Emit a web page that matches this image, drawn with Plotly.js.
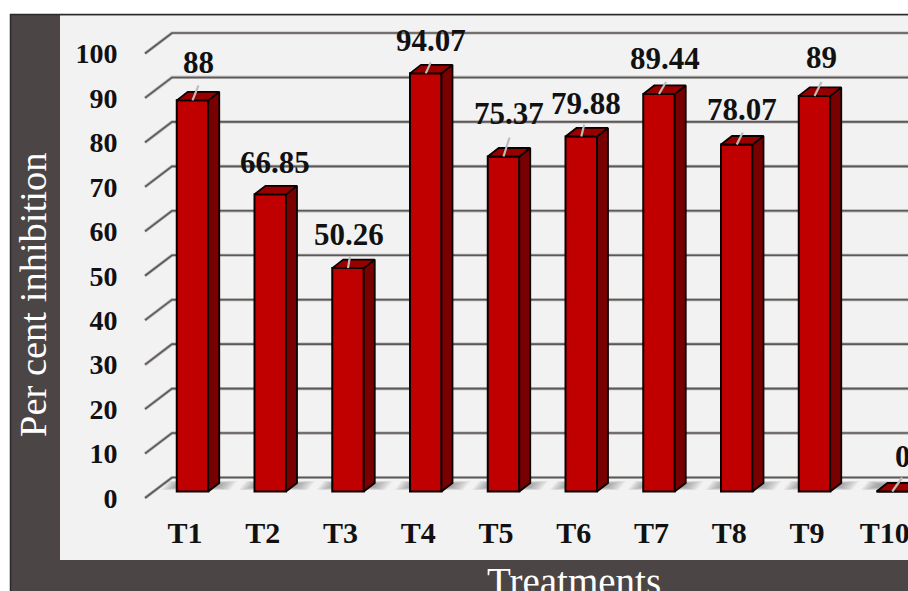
<!DOCTYPE html>
<html>
<head>
<meta charset="utf-8">
<script src="https://cdn.plot.ly/plotly-3.0.1.min.js"></script>
<style>
html,body{margin:0;padding:0;background:#fff;overflow:hidden}
#chart{width:908px;height:591px}
</style>
</head>
<body>
<div id="chart"></div>
<script>
// Per cent inhibition by treatment
const treatments = ['T1','T2','T3','T4','T5','T6','T7','T8','T9','T10'];
const inhibition = [88, 66.85, 50.26, 94.07, 75.37, 79.88, 89.44, 78.07, 89, 0];
const valueLabels = ['88','66.85','50.26','94.07','75.37','79.88','89.44','78.07','89','0'];
const yTicks = [0,10,20,30,40,50,60,70,80,90,100];

// Label placement, in pixels from the top-centre of each bar's front face
const labelOffsetX = [6, 5, 1, 5, 5, 5, 6, 5, 7, 11];
const labelOffsetY = [-38, -32, -34, -33, -42.5, -33, -35, -35, -38, -35];
const leaderX = [6, 0, 2, 5, 6, 3, 7, 6, 7, 10];
const leaderY = [-15, 0, -12, -11, -19, -12, -12, -12, -14, -14];

// Plot geometry
const W = 908, H = 591;
const M = {l:125, r:0, t:15, b:91};
const pitch = 77.75, unitPx = 4.445;   // pixels per category, pixels per y unit
const x0Px = 192.5, y0Px = 491.5;      // pixel position of T1 centre / value 0
const dxU = px => px / pitch;
const dyU = px => px / unitPx;
const xRange = [(M.l - x0Px) / pitch, (W - M.r - x0Px) / pitch];
const yRange = [-((H - M.b) - y0Px) / unitPx, (y0Px - M.t) / unitPx];

const idx = treatments.map((_, i) => i);
const barW = 31.5 / pitch;
const depthX = dxU(11), depthY = dyU(8.5);

// Depth faces of the extruded bars, and leader lines up to the value labels
const sideX = [], sideY = [], topX = [], topY = [], leadX = [], leadY = [];
idx.forEach(i => {
  const v = inhibition[i], L = i - barW/2, R = i + barW/2;
  if (v > 0) {
    sideX.push(R, R+depthX, R+depthX, R, R, null);
    sideY.push(0, depthY, v+depthY, v, 0, null);
  }
  topX.push(L, L+depthX, R+depthX, R, L, null);
  topY.push(v, v+depthY, v+depthY, v, v, null);
  if (leaderY[i] !== 0) {
    leadX.push(i, i + dxU(leaderX[i]), null);
    leadY.push(v, v - dyU(leaderY[i]), null);
  }
});

// Frame and panel, expressed in window pixels
const pX = px => (px - M.l) / (W - M.l - M.r);
const pY = py => ((H - M.b) - py) / (H - M.t - M.b);
const rect = (x0,y0,x1,y1,fill,line) => ({
  type:'rect', xref:'paper', yref:'paper', layer:'below',
  x0:pX(x0), x1:pX(x1), y0:pY(y1), y1:pY(y0),
  fillcolor:fill, line: line || {width:0}
});
const shapes = [
  rect(10.5,14.5,W+4,H+4,'#4b4545',{color:'#2a2a2a',width:1.5}),
  rect(60,15.5,W+4,560,'#f2f2f2')
];

// Back-wall gridlines that fold forward onto the floor at the left
const wallLeft = dxU(172 - x0Px), floorLeft = dxU(145 - x0Px), wallUp = dyU(14), floorDown = dyU(6.5);
yTicks.forEach(v => {
  const path = `M ${floorLeft} ${v - floorDown} L ${wallLeft} ${v + wallUp} L ${xRange[1]} ${v + wallUp}`;
  shapes.push({type:'path', xref:'x', yref:'y', layer:'below', path,
    line:{color:'rgba(110,104,104,0.45)', width:3.2}});
  shapes.push({type:'path', xref:'x', yref:'y', layer:'below', path,
    line:{color:'#5d5858', width:1.6}});
});

// Floor shadows: nested shapes build up a soft edge around each bar's foot
idx.forEach(i => {
  [[12,4.6],[10.5,4.3],[9,4],[7.5,3.7],[6,3.4],[4.5,3],[3,2.6],[1.5,2.2],[0,1.8]].forEach(([grow, h]) => {
    const L = i - barW/2 - dxU(grow), R = i + barW/2 + depthX + dxU(grow * 1.2);
    const yMid = dyU(6), skew = dxU(h * 0.8);
    shapes.push({
      type:'path', xref:'x', yref:'y', layer:'below',
      path:`M ${L - skew} ${yMid - dyU(h)} L ${R - skew} ${yMid - dyU(h)} L ${R + skew} ${yMid + dyU(h)} L ${L + skew} ${yMid + dyU(h)} Z`,
      fillcolor:'rgba(70,70,70,0.06)', line:{width:0}
    });
  });
});

const serif = '"Liberation Serif", serif';
const annotations = idx.map(i => ({
  x:i, y:inhibition[i], xref:'x', yref:'y',
  text:valueLabels[i], showarrow:false,
  xanchor:'center', yanchor:'middle',
  xshift:labelOffsetX[i], yshift:-labelOffsetY[i],
  font:{family:serif, size:31, color:'#111', weight:700}
}));
annotations.push({
  xref:'paper', yref:'paper', x:pX(33), y:pY(295), text:'Per cent inhibition', textangle:-90,
  showarrow:false, xanchor:'center', yanchor:'middle',
  font:{family:serif, size:38.5, color:'#fff'}
});
annotations.push({
  xref:'paper', yref:'paper', x:pX(574), y:pY(581), text:'Treatments',
  showarrow:false, xanchor:'center', yanchor:'middle',
  font:{family:serif, size:39, color:'#fff'}
});

const traces = [
  {type:'bar', x:idx, y:inhibition, width:barW,
   marker:{color:'#c00000', line:{color:'#0a0000', width:2}},
   hoverinfo:'skip', showlegend:false},
  {type:'scatter', mode:'lines', x:sideX, y:sideY, fill:'toself', fillcolor:'#780000',
   line:{color:'#0a0000', width:1.8}, hoverinfo:'skip', showlegend:false},
  {type:'scatter', mode:'lines', x:topX, y:topY, fill:'toself', fillcolor:'#980000',
   line:{color:'#0a0000', width:1.8}, hoverinfo:'skip', showlegend:false},
  {type:'scatter', mode:'lines', x:leadX, y:leadY,
   line:{color:'#bdbdbd', width:2.2}, hoverinfo:'skip', showlegend:false}
];

const layout = {
  width:W, height:H, margin:M,
  paper_bgcolor:'#ffffff', plot_bgcolor:'rgba(0,0,0,0)',
  showlegend:false, barmode:'overlay',
  font:{family:serif, color:'#111'},
  xaxis:{
    range:xRange, showgrid:false, zeroline:false, showline:false,
    tickmode:'array', tickvals:idx.map(i => i - dxU(7.5)), ticktext:treatments,
    ticks:'outside', ticklen:6, tickcolor:'rgba(0,0,0,0)', ticklabeloverflow:'allow',
    tickfont:{family:serif, size:30, color:'#111', weight:700}
  },
  yaxis:{
    range:yRange, showgrid:false, zeroline:false, showline:false,
    tickmode:'array', tickvals:yTicks.map(v => v - floorDown), ticktext:yTicks.map(String),
    ticks:'outside', ticklen:1, tickcolor:'rgba(0,0,0,0)',
    tickfont:{family:serif, size:28, color:'#111', weight:700}
  },
  shapes, annotations
};

Plotly.newPlot('chart', traces, layout, {displayModeBar:false, responsive:false});
</script>
</body>
</html>
